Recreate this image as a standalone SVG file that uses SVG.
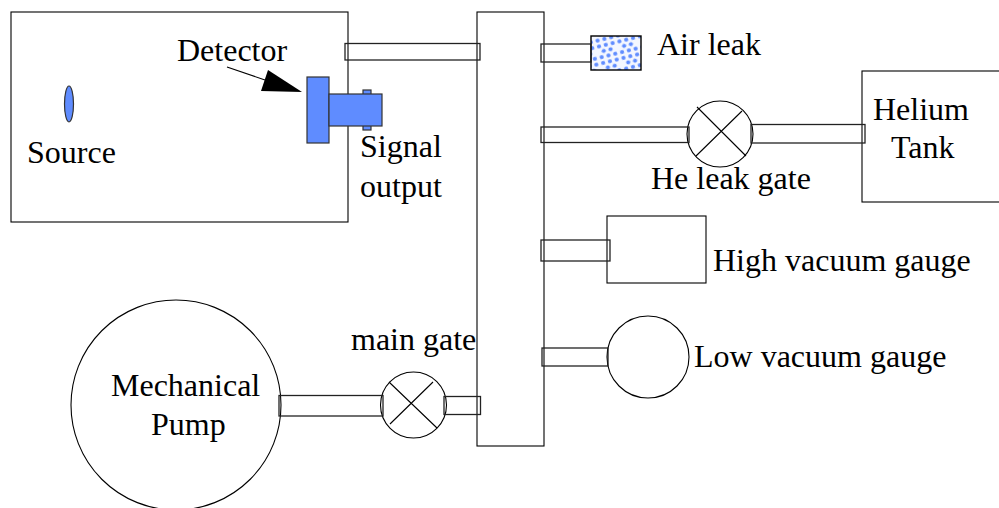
<svg xmlns="http://www.w3.org/2000/svg" width="999" height="508" viewBox="0 0 999 508">
<style>
.l{fill:none;stroke:#000;stroke-width:1.1}
.w{fill:none;stroke:#000;stroke-width:1.1}
.t{fill:none;stroke:#222;stroke-width:1.3}
.b{fill:#5f8cff;stroke:#333;stroke-width:1.2}
text{font-family:"Liberation Serif",serif;font-size:32px;fill:#000}
</style>
<defs>
<pattern id="dots" width="21" height="17" patternUnits="userSpaceOnUse" patternTransform="rotate(-14)">
<rect width="21" height="17" fill="#f4f7ff"/>
<g fill="#5f8cff"><circle cx="3" cy="3" r="2.1"/><circle cx="10" cy="3" r="2.1"/><circle cx="17" cy="3" r="2.1"/><circle cx="6.5" cy="8.5" r="2.1"/><circle cx="13.5" cy="8.5" r="2.1"/><circle cx="3" cy="14" r="2.1"/><circle cx="10" cy="14" r="2.1"/><circle cx="17" cy="14" r="2.1"/></g>
</pattern>
</defs>
<rect width="999" height="508" fill="#fff"/>
<g id="chamber"><rect class="l" x="11" y="12" width="337" height="210"/></g>
<g id="manifold"><rect class="l" x="477" y="12" width="67" height="434"/></g>
<g id="source"><ellipse cx="69" cy="104" rx="4.5" ry="18" class="b"/><text x="27" y="163">Source</text></g>
<g id="detector">
<rect class="b" x="363" y="90" width="8" height="40"/>
<rect class="b" x="307" y="77" width="22" height="66"/>
<rect class="b" x="329" y="94" width="53" height="32"/>
<text x="177" y="61">Detector</text>
</g>
<g id="signal-output"><text x="360" y="157">Signal</text><text x="360" y="197">output</text></g>
<g id="air-leak"><rect x="591" y="36" width="50" height="34" fill="url(#dots)" stroke="#000" stroke-width="1.4"/><text x="657" y="55">Air leak</text></g>
<g id="he-gate"><circle class="w" cx="720" cy="134" r="33"/><path class="l" d="M697 107L746 156M742 111L696 156"/><text x="651" y="189">He leak gate</text></g>
<g id="helium-tank"><rect class="w" x="862" y="71" width="140" height="131"/><text x="873" y="120">Helium</text><text x="891" y="158">Tank</text></g>
<g id="high-gauge"><rect class="w" x="607" y="216" width="99" height="67"/><text x="713" y="271">High vacuum gauge</text></g>
<g id="low-gauge"><circle class="w" cx="648" cy="357" r="41"/><text x="694" y="367">Low vacuum gauge</text></g>
<g id="main-gate"><circle class="w" cx="413.500" cy="405" r="33"/><path class="l" d="M389 382L437 428M433 382L390 424"/><text x="351" y="350">main gate</text></g>
<g id="pump"><circle class="w" cx="176" cy="405" r="105"/><text x="111" y="396">Mechanical</text><text x="151" y="435">Pump</text></g>
<g id="connectors">
<path d="M227 67L265 80" class="l"/>
<path d="M268 70L302 92L261 91Z" fill="#000"/>
<rect class="t" x="345" y="43.500" width="135" height="16.500"/>
<rect class="t" x="541" y="44" width="50" height="18"/>
<rect class="t" x="541" y="127" width="148" height="15.500"/>
<rect class="t" x="751" y="124.500" width="114" height="18.500"/>
<rect class="t" x="541" y="240" width="69" height="21"/>
<rect class="t" x="542" y="348" width="66" height="18"/>
<rect class="t" x="279" y="395.500" width="104" height="20.500"/>
<rect class="t" x="444" y="396.500" width="36.500" height="18"/>
</g>
</svg>
